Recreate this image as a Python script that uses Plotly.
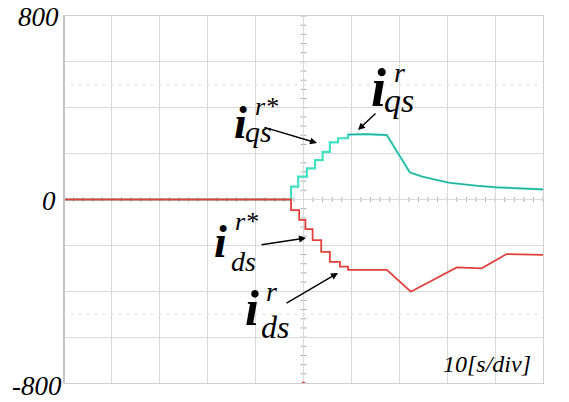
import plotly.graph_objects as go

# ---- data (time in s, current in A) ----
iqs_t = [0, 47.4, 47.4, 48.9, 48.9, 50.7, 50.7, 52.4, 52.4, 54.0, 54.0, 55.5, 55.5, 57.2, 57.2, 59.3, 59.3,
         63.0, 67.4, 72.2, 74.9, 78.5, 80.4, 86.2, 90.4, 100]
iqs_v = [0, 0, 56, 56, 100, 100, 136, 136, 172, 172, 208, 208, 249, 249, 267, 267, 283,
         285, 281, 118, 99, 80, 73, 60, 53, 44]
iqs_ref_t = [59.3, 63.0, 67.4, 72.2, 74.9, 78.5, 80.4, 86.2, 90.4, 100]
iqs_ref_v = [283, 285, 281, 118, 99, 80, 73, 60, 53, 44]
ids_t = [0, 47.4, 47.4, 49.1, 49.1, 50.4, 50.4, 51.9, 51.9, 53.7, 53.7, 55.5, 55.5, 57.6, 57.6, 59.3, 59.3,
         67.4, 72.4, 82.0, 87.2, 92.4, 100]
ids_v = [0, 0, -46, -46, -89, -89, -129, -129, -177, -177, -228, -228, -272, -272, -293, -293, -307,
         -307, -402, -296, -300, -238, -241]

y_labels = ["800", "0", "-800"]
x_label = "10[s/div]"

W, H = 569, 402
L, R, T, B = 64, 543, 16, 383

fig = go.Figure()
fig.add_trace(go.Scatter(x=iqs_t, y=iqs_v, mode="lines", line=dict(color="#40e0c2", width=2.2), hoverinfo="skip"))
fig.add_trace(go.Scatter(x=iqs_ref_t, y=iqs_ref_v, mode="lines", line=dict(color="#1f5a6a", width=0.8), opacity=0.6, hoverinfo="skip"))
fig.add_trace(go.Scatter(x=ids_t, y=ids_v, mode="lines", line=dict(color="#e0403c", width=1.8), hoverinfo="skip"))

shapes = []
for yv in (500, -500):
    shapes.append(dict(type="line", xref="x", yref="y", x0=1.5, x1=99, y0=yv, y1=yv,
                       line=dict(color="#cccccc", width=1, dash="2px,6px"), layer="below"))
shapes.append(dict(type="line", xref="x", yref="y", x0=50, x1=50, y0=-800, y1=800,
                   line=dict(color="#a8a8a8", width=1), layer="below"))
shapes.append(dict(type="line", xref="x", yref="y", x0=0, x1=100, y0=0, y1=0,
                   line=dict(color="#a8a8a8", width=1), layer="below"))
for k in range(-20, 21):
    yv = k * 40
    shapes.append(dict(type="line", xref="x", yref="y", x0=49.4, x1=50.6, y0=yv, y1=yv,
                       line=dict(color="#a8a8a8", width=1), layer="below"))
for k in range(0, 51):
    xv = k * 2
    shapes.append(dict(type="line", xref="x", yref="y", x0=xv, x1=xv, y0=-10, y1=10,
                       line=dict(color="#a8a8a8", width=1), layer="below"))
shapes.append(dict(type="line", xref="paper", yref="paper", x0=0, x1=0, y0=0, y1=1,
                   line=dict(color="#c4c4c4", width=2)))
shapes.append(dict(type="circle", xref="x", yref="y", x0=49.7, x1=50.3, y0=-806, y1=-794,
                   fillcolor="#e0403c", line=dict(width=0)))


def px(x):
    return (x - L) / (R - L)


def py(y):
    return (B - y) / (B - T)


FONT = "Liberation Serif"
ann = []


def txt(s, x_left, baseline, size, bold=False, italic=True):
    t = s
    if italic:
        t = "<i>" + t + "</i>"
    if bold:
        t = "<b>" + t + "</b>"
    ann.append(dict(text=t, xref="paper", yref="paper", x=px(x_left - 1), y=py(baseline + 0.216 * size + 1),
                    xanchor="left", yanchor="bottom", showarrow=False,
                    font=dict(family=FONT, size=size, color="black")))


def txt_r(s, x_right, baseline, size):
    ann.append(dict(text="<i>" + s + "</i>", xref="paper", yref="paper", x=px(x_right + 1),
                    y=py(baseline + 0.216 * size + 1), xanchor="right", yanchor="bottom", showarrow=False,
                    font=dict(family=FONT, size=size, color="black")))


def arrow(x_tail, y_tail, x_head, y_head):
    ann.append(dict(text="", xref="paper", yref="paper", x=px(x_head), y=py(y_head),
                    ax=x_tail - x_head, ay=y_tail - y_head, showarrow=True,
                    arrowhead=2, arrowsize=1, arrowwidth=1.4, arrowcolor="black"))


txt_r(y_labels[0], 60, 27, 27)
txt_r(y_labels[1], 57, 211, 27)
txt_r(y_labels[2], 63, 396, 27)
txt_r(x_label, 532, 373, 24)

# i_qs^{r*}
txt("i", 233, 139, 46, bold=True)
txt("r*", 254, 116, 26)
txt("qs", 244, 143, 30)
arrow(263, 127, 317, 143)
# i_qs^{r}
txt("i", 370, 107, 54, bold=True)
txt("r", 393, 83, 28)
txt("qs", 383, 113, 34)
arrow(377, 112, 358, 130)
# i_ds^{r*}
txt("i", 213, 258, 46, bold=True)
txt("r*", 234, 231, 26)
txt("ds", 230, 272, 28)
arrow(260, 245, 306, 238)
# i_ds^{r}
txt("i", 244, 326, 50, bold=True)
txt("r", 265, 302, 28)
txt("ds", 260, 339, 32)
arrow(285, 304, 338, 273)

fig.update_layout(
    width=W, height=H, margin=dict(l=L, r=W - R, t=T, b=H - B),
    paper_bgcolor="white", plot_bgcolor="white", showlegend=False,
    shapes=shapes, annotations=ann,
    xaxis=dict(range=[0, 100], dtick=10, showgrid=True, gridcolor="#d9d9d9", gridwidth=1,
               showticklabels=False, zeroline=False, showline=True, mirror=True,
               linecolor="#cfcfcf", linewidth=1, ticks=""),
    yaxis=dict(range=[-800, 800], dtick=200, showgrid=True, gridcolor="#d9d9d9", gridwidth=1,
               showticklabels=False, zeroline=False, showline=True, mirror=True,
               linecolor="#cfcfcf", linewidth=1, ticks=""),
)
fig.write_html("out.html", post_script="document.body.style.margin='0';", config={"displayModeBar": False})
